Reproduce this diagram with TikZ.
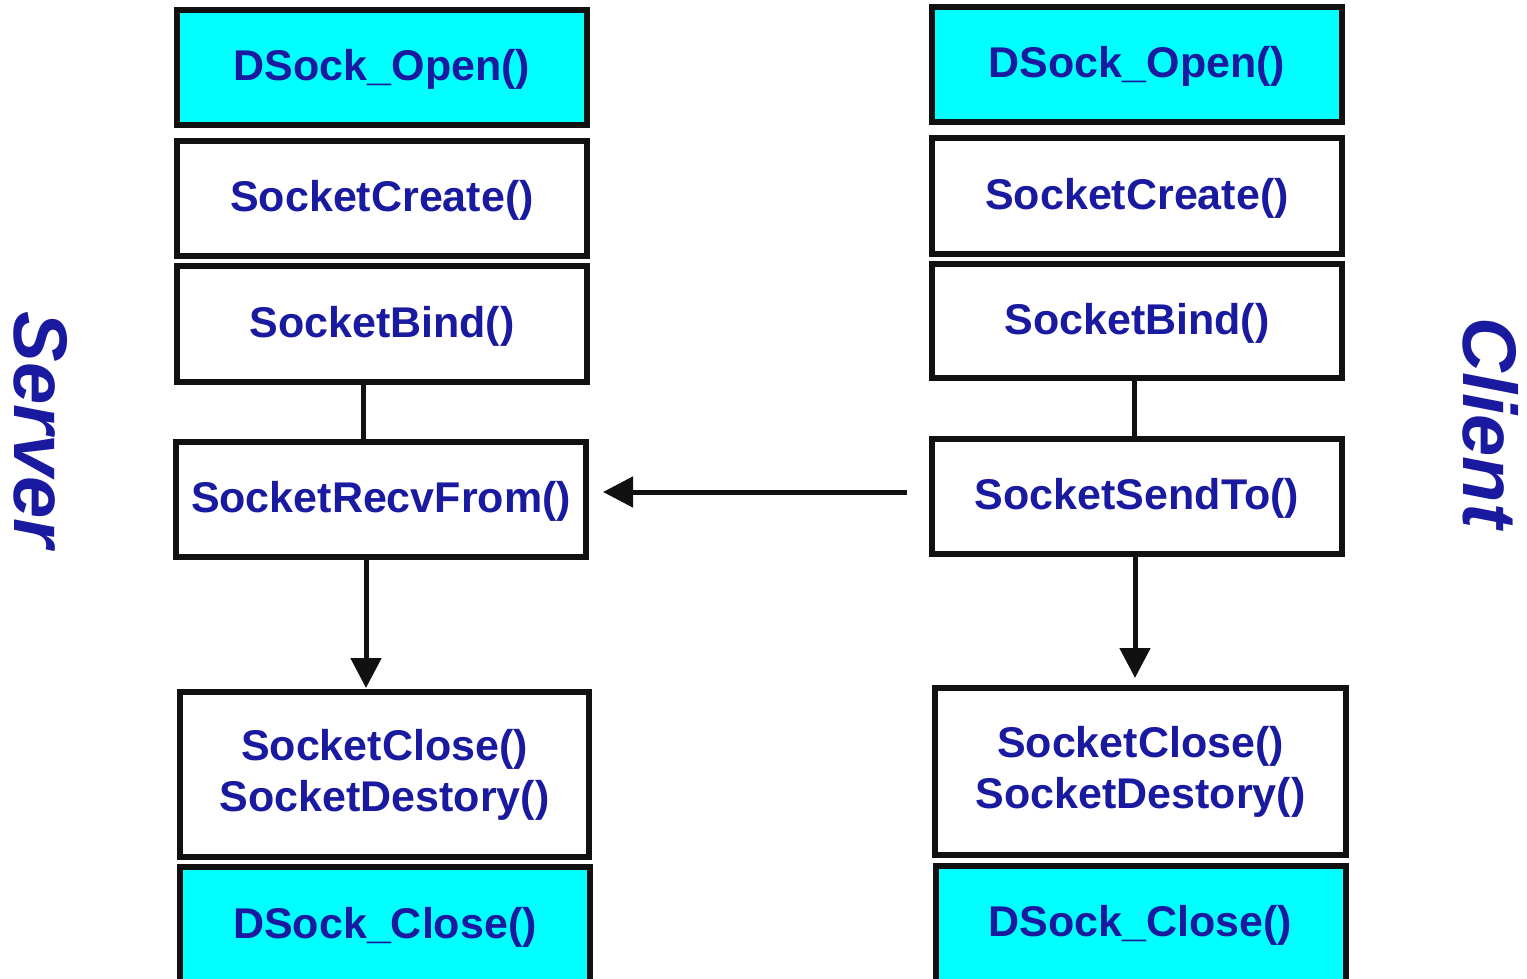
\documentclass[tikz,border=0pt]{standalone}
\usepackage{fontspec}
\setmainfont{Liberation Sans}
\usetikzlibrary{arrows.meta,calc}
\definecolor{txtblue}{RGB}{26,26,160}
\definecolor{boxcyan}{RGB}{0,255,255}
\definecolor{ink}{RGB}{17,17,17}

\tikzset{
  fnbox/.style={draw=ink, fill=white, line width=6pt, inner sep=0pt, outer sep=0pt,
    minimum width=410pt, minimum height=115pt, text=txtblue,
    font=\bfseries\fontsize{43}{51}\selectfont},
  oneline/.style={text height=26pt, text depth=0pt},
  twoline/.style={align=center, minimum height=166pt},
  dsock/.style={fill=boxcyan},
  conn/.style={draw=ink, line width=5pt},
  arr/.style={conn, -{Triangle[length=30pt, width=30pt]}},
  side/.style={text=txtblue, inner sep=0pt, rotate=-90, anchor=base,
    font=\bfseries\itshape\fontsize{76}{90}\selectfont}
}

\begin{document}
\begin{tikzpicture}[x=1pt, y=-1pt]
  \useasboundingbox (0,0) rectangle (1527,979);
  \clip (0,0) rectangle (1527,979);

  % server column
  \node[fnbox, oneline, dsock] (L1) at (382,67.25) {DSock\_Open()};
  \node[fnbox, oneline] (L2) at (382,198.5) {SocketCreate()};
  \node[fnbox, oneline, minimum height=116pt] (L3) at (382,324) {SocketBind()};
  \node[fnbox, oneline] (L4) at (381,499.5) {SocketRecvFrom()};
  \node[fnbox, twoline, minimum width=409pt, minimum height=165pt] (L5) at (384.5,774.5)
    {SocketClose()\\SocketDestory()};
  \node[fnbox, oneline, dsock, minimum height=116pt] (L6) at (385,925) {DSock\_Close()};

  % client column
  \node[fnbox, oneline, dsock] (R1) at (1137,64.5) {DSock\_Open()};
  \node[fnbox, oneline, minimum height=115.5pt] (R2) at (1137,196.25) {SocketCreate()};
  \node[fnbox, oneline, minimum height=114pt] (R3) at (1137,321) {SocketBind()};
  \node[fnbox, oneline] (R4) at (1137,496.5) {SocketSendTo()};
  \node[fnbox, twoline, minimum width=411pt, minimum height=167pt] (R5) at (1140.5,771.5)
    {SocketClose()\\SocketDestory()};
  \node[fnbox, oneline, dsock, minimum height=116pt] (R6) at (1140.5,923.5) {DSock\_Close()};

  % side captions
  \node[side] (srv) at (15,430) {Server};
  \node[side] (cli) at (1463,423) {Client};

  % connector positions
  \coordinate (lxa) at (363,0);
  \coordinate (lxb) at (366,0);
  \coordinate (rxa) at (1134,0);
  \coordinate (rxb) at (1135,0);
  \coordinate (hy) at (0,492);

  % links within each column
  \draw[conn] (L3.south -| lxa) -- (L4.north -| lxa);
  \draw[conn] (R3.south -| rxa) -- (R4.north -| rxa);
  \draw[arr, shorten >=4pt] (L4.south -| lxb) -- (L5.north -| lxb);
  \draw[arr, shorten >=10pt] (R4.south -| rxb) -- (R5.north -| rxb);

  % datagram from client to server
  \draw[arr, shorten <=25pt, shorten >=17pt] (R4.west |- hy) -- (L4.east |- hy);
\end{tikzpicture}
\end{document}
